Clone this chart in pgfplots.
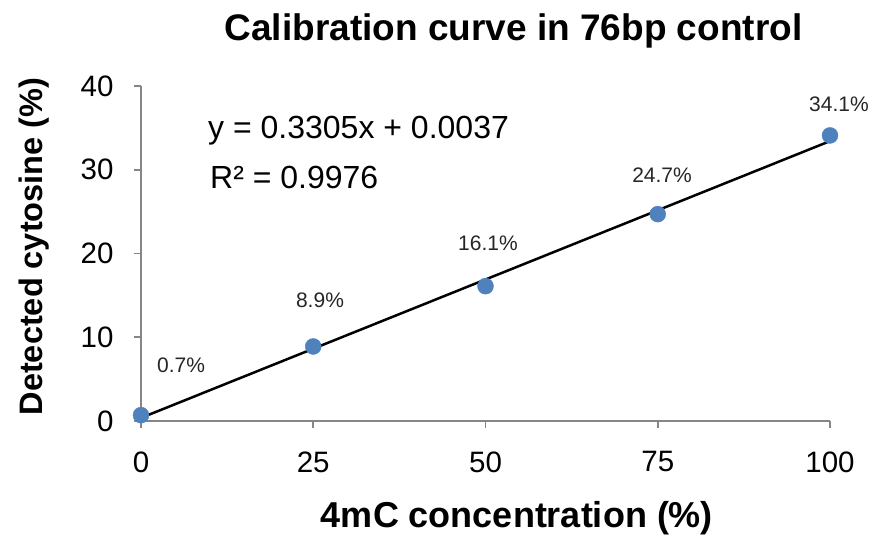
\documentclass[border=0pt]{standalone}
\usepackage{pgfplots}
\pgfplotsset{compat=1.18}
\usepackage{fontspec}
\setmainfont{Liberation Sans}
\definecolor{ptblue}{HTML}{4F81BD}
\definecolor{axgray}{RGB}{134,134,134}
\begin{document}
\begin{tikzpicture}
\begin{axis}[
  at={(141bp,114bp)}, anchor=south west,
  width=689bp, height=335bp, scale only axis,
  xmin=0, xmax=100, ymin=0, ymax=40,
  axis x line*=bottom, axis y line*=left,
  axis line style={draw=axgray, line width=1.6bp},
  xtick={0,25,50,75,100}, ytick={0,10,20,30,40},
  tick align=outside, major tick length=7bp,
  tick style={draw=axgray, line width=1.6bp},
  /pgf/number format/assume math mode=true,
  ticklabel style={font=\fontsize{29.5bp}{30bp}\selectfont, text=black},
  xticklabel style={yshift=-20bp},
  yticklabel style={xshift=-17bp},
  clip=false,
]
\addplot[only marks, mark=*, mark size=8bp, mark options={fill=ptblue, draw=ptblue}]
  coordinates {(0,0.7) (25,8.9) (50,16.1) (75,24.7) (100,34.1)};
\addplot[black, line width=2.5bp] coordinates {(0,0.37) (100,33.42)};
\begin{scope}[every node/.style={font=\fontsize{21bp}{22bp}\selectfont, text=black!85}]
\node at (axis cs:5.81,6.69) {0.7\%};
\node at (axis cs:25.98,14.45) {8.9\%};
\node at (axis cs:50.36,21.25) {16.1\%};
\node at (axis cs:75.62,29.37) {24.7\%};
\node at (axis cs:101.3,37.85) {34.1\%};
\end{scope}
\end{axis}
\node[anchor=base, inner sep=0pt, font=\fontsize{37bp}{38bp}\selectfont\bfseries] at (513.5bp,494bp) {Calibration curve in 76bp control};
\node[anchor=base, inner sep=0pt, font=\fontsize{36bp}{38bp}\selectfont\bfseries] at (517bp,8bp) {4mC concentration (\%)};
\node[anchor=base, inner sep=0pt, rotate=90, font=\fontsize{32.5bp}{34bp}\selectfont\bfseries] at (42bp,288.5bp) {Detected cytosine (\%)};
\node[anchor=base west, inner sep=0pt, font=\fontsize{32bp}{34bp}\selectfont] at (208bp,396bp) {y = 0.3305x + 0.0037};
\node[anchor=base west, inner sep=0pt, font=\fontsize{32bp}{34bp}\selectfont] at (210bp,346bp) {R² = 0.9976};
\pgfresetboundingbox
\path (0,0) rectangle (877bp,535bp);
\end{tikzpicture}
\end{document}
